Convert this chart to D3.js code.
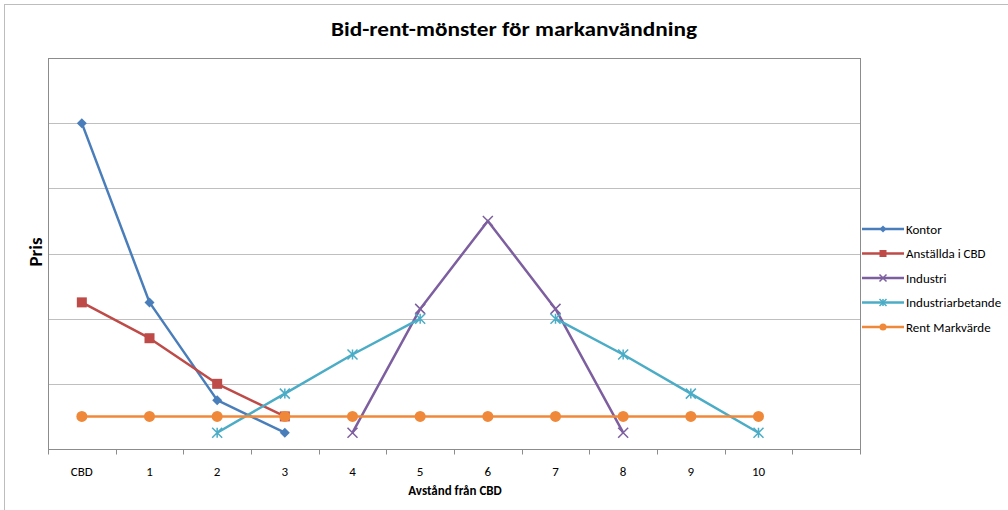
<!DOCTYPE html>
<html>
<head>
<meta charset="utf-8">
<script src="https://cdn.jsdelivr.net/npm/d3@7"></script>
<style>
  html, body { margin: 0; padding: 0; background: #fff; }
  svg { display: block; }
  text { font-family: "Carlito", "Liberation Sans", Arial, sans-serif; fill: #000; }
</style>
</head>
<body>
<svg id="chart" width="1008" height="510"></svg>
<script>
// Categories along the distance axis (last slot left empty)
const categories = ["CBD", "1", "2", "3", "4", "5", "6", "7", "8", "9", "10", " "];

// Series values (null = no value at that distance)
const kontor            = [5.0, 2.25, 0.75, 0.25, null, null, null, null, null, null, null, null];
const anstallda         = [2.25, 1.7, 1.0, 0.5, null, null, null, null, null, null, null, null];
const industri          = [null, null, null, null, 0.25, 2.15, 3.5, 2.15, 0.25, null, null, null];
const industriarbetande = [null, null, 0.25, 0.85, 1.45, 2.0, null, 2.0, 1.45, 0.85, 0.25, null];
const rentMarkvarde     = [0.5, 0.5, 0.5, 0.5, 0.5, 0.5, 0.5, 0.5, 0.5, 0.5, 0.5, null];

const seriesNames  = ["Kontor", "Anställda i CBD", "Industri", "Industriarbetande", "Rent Markvärde"];
const seriesValues = [kontor, anstallda, industri, industriarbetande, rentMarkvarde];
const seriesColors = ["#4A7EBB", "#BE4B48", "#7D5FA0", "#4BACC6", "#F0883A"];
const seriesMarkers = ["diamond", "square", "x", "star", "circle"];

const yTicks = [0, 1, 2, 3, 4, 5, 6];

const svg = d3.select("#chart");
const W = 1008, H = 510;
const plot = { left: 48, right: 860, top: 58, bottom: 449 };

// Outer chart frame
svg.append("rect")
  .attr("x", 4.5).attr("y", 4.5)
  .attr("width", W + 20).attr("height", H + 20)
  .attr("fill", "#fff").attr("stroke", "#bdbdbd").attr("stroke-width", 1);

const x = d3.scaleBand().domain(categories).range([plot.left, plot.right]);
const y = d3.scaleLinear().domain([0, 6]).range([plot.bottom, plot.top]);

// Horizontal gridlines
svg.append("g")
  .selectAll("line")
  .data(yTicks.filter(t => t > 0 && t < 6))
  .join("line")
  .attr("x1", plot.left).attr("x2", plot.right)
  .attr("y1", d => Math.round(y(d)) + 0.5).attr("y2", d => Math.round(y(d)) + 0.5)
  .attr("stroke", "#bfbfbf").attr("stroke-width", 1);

// Plot area frame
svg.append("rect")
  .attr("x", plot.left + 0.5).attr("y", plot.top + 0.5)
  .attr("width", plot.right - plot.left).attr("height", plot.bottom - plot.top)
  .attr("fill", "none").attr("stroke", "#8c8c8c").attr("stroke-width", 1);

// X axis with tick marks at category boundaries
const xAxis = svg.append("g").attr("transform", `translate(0,${plot.bottom + 0.5})`);
xAxis.append("line")
  .attr("x1", plot.left).attr("x2", plot.right)
  .attr("stroke", "#8c8c8c");
const bounds = categories.map(c => x(c)).concat([plot.right]);
xAxis.selectAll("line.tick")
  .data(bounds)
  .join("line")
  .attr("class", "tick")
  .attr("x1", d => Math.round(d) + 0.5).attr("x2", d => Math.round(d) + 0.5)
  .attr("y1", 0).attr("y2", 5)
  .attr("stroke", "#8c8c8c");
xAxis.selectAll("text")
  .data(categories)
  .join("text")
  .attr("x", d => x(d) + x.bandwidth() / 2)
  .attr("y", 26)
  .attr("text-anchor", "middle")
  .attr("font-size", 13)
  .attr("fill", "#404040")
  .text(d => d.trim());

// Titles
svg.append("text")
  .attr("x", 514).attr("y", 36)
  .attr("text-anchor", "middle")
  .attr("font-size", 21).attr("font-weight", "bold")
  .attr("textLength", 366).attr("lengthAdjust", "spacingAndGlyphs")
  .text("Bid-rent-mönster för markanvändning");

svg.append("text")
  .attr("x", 455).attr("y", 495)
  .attr("text-anchor", "middle")
  .attr("font-size", 13).attr("font-weight", "bold")
  .text("Avstånd från CBD");

svg.append("text")
  .attr("transform", "translate(42,252) rotate(-90)")
  .attr("text-anchor", "middle")
  .attr("font-size", 19).attr("font-weight", "bold")
  .text("Pris");

// Marker drawing
function drawMarker(g, type, color, size) {
  const s = size / 2;
  if (type === "diamond") {
    g.append("path").attr("d", `M0,${-s}L${s},0L0,${s}L${-s},0Z`).attr("fill", color);
  } else if (type === "square") {
    g.append("rect").attr("x", -s).attr("y", -s).attr("width", size).attr("height", size).attr("fill", color);
  } else if (type === "circle") {
    g.append("circle").attr("r", s).attr("fill", color);
  } else if (type === "x") {
    g.append("path").attr("d", `M${-s},${-s}L${s},${s}M${-s},${s}L${s},${-s}`)
      .attr("stroke", color).attr("stroke-width", 1.5).attr("fill", "none");
  } else if (type === "star") {
    g.append("path").attr("d", `M${-s},${-s}L${s},${s}M${-s},${s}L${s},${-s}M0,${-s}L0,${s}`)
      .attr("stroke", color).attr("stroke-width", 1.5).attr("fill", "none");
  }
}

const cx = c => x(c) + x.bandwidth() / 2;
const line = d3.line()
  .defined(d => d.v !== null)
  .x(d => cx(d.c))
  .y(d => y(d.v));

const markerSize = [10, 10, 10, 10, 11];

seriesValues.forEach((vals, i) => {
  const pts = vals.map((v, j) => ({ c: categories[j], v }));
  const g = svg.append("g");
  g.append("path")
    .datum(pts)
    .attr("d", line)
    .attr("fill", "none")
    .attr("stroke", seriesColors[i])
    .attr("stroke-width", 2.5)
    .attr("stroke-linejoin", "round");
  pts.filter(p => p.v !== null).forEach(p => {
    const m = g.append("g").attr("transform", `translate(${cx(p.c)},${y(p.v)})`);
    drawMarker(m, seriesMarkers[i], seriesColors[i], markerSize[i]);
  });
});

// Legend
const legend = svg.append("g").attr("transform", "translate(862,229)");
seriesNames.forEach((name, i) => {
  const row = legend.append("g").attr("transform", `translate(0,${i * 24.5})`);
  row.append("line").attr("x1", 0).attr("x2", 42).attr("y1", 0).attr("y2", 0)
    .attr("stroke", seriesColors[i]).attr("stroke-width", 2.5);
  const m = row.append("g").attr("transform", "translate(21,0)");
  drawMarker(m, seriesMarkers[i], seriesColors[i], 7);
  row.append("text").attr("x", 44).attr("y", 4.5).attr("font-size", 13).text(name);
});
</script>
</body>
</html>
